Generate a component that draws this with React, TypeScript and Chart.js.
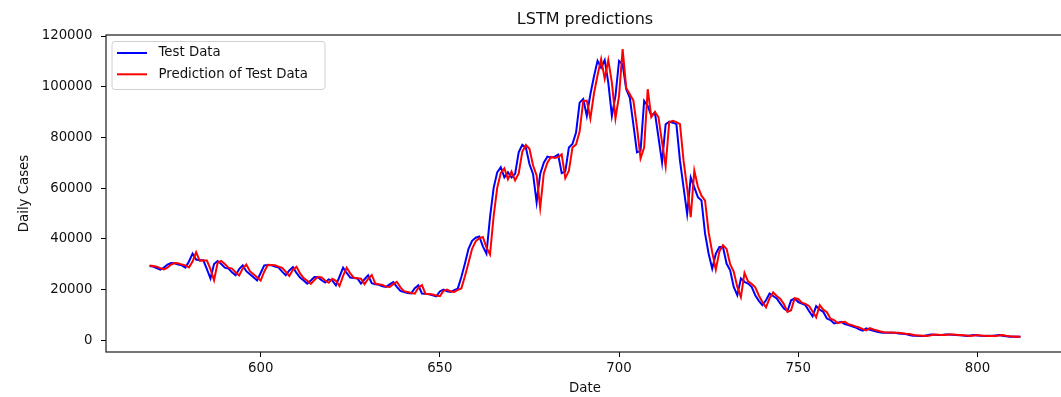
import React, { useEffect, useRef } from "react";
import { Chart, registerables } from "chart.js";

Chart.register(...registerables);

const chartTitle = "LSTM predictions";
const xTitle = "Date";
const yTitle = "Daily Cases";
const seriesLabels = ["Test Data", "Prediction of Test Data"];
const seriesColors = ["#0000ff", "#ff0000"];

const firstDay = 569;
const xTicks = [600, 650, 700, 750, 800];
const yTicks = [0, 20000, 40000, 60000, 80000, 100000, 120000];

// days 569..812
const testData = [
  29200, 29000, 28400, 27800, 28600, 29800, 30400, 30300, 29800, 29500,
  28600, 31000, 34100, 31800, 31500, 31500, 28000, 24300, 30000, 31200,
  30000, 28600, 28200, 26800, 25600, 28000, 29500, 27200, 26000, 24800,
  23600, 26500, 29500, 29600, 29500, 29000, 28600, 27000, 25600, 27500,
  28800, 26500, 24700, 23500, 22300, 23500, 24900, 24800, 23600, 22700,
  24000, 23500, 21600, 25000, 28600, 26500, 24700, 24500, 24300, 22300,
  24000, 25600, 22500, 22000, 21800, 21200, 21000, 22000, 22900, 21000,
  19400, 19000, 18600, 18400, 20500, 21600, 18400, 18300, 18100, 17700,
  17300, 19200, 19900, 19300, 19000, 19700, 20300, 24900, 30200, 36000,
  39200, 40400, 40900, 37000, 34100, 48500, 60000, 66200, 68200, 64200,
  66200, 64200, 65600, 74100, 77100, 76000, 69500, 65600, 54400, 65600,
  70000, 72400, 72100, 72300, 73200, 65900, 66500, 76000, 77400, 81900,
  93700, 95100, 88500, 97000, 104000, 110200, 107500, 110500, 101600, 88500,
  96400, 110200, 108800, 99000, 95700, 85000, 74100, 74700, 94400, 92400,
  88500, 89800, 80000, 70100, 85200, 86200, 85800, 85200, 70800, 60300,
  49800, 64200, 60300, 56400, 55100, 42000, 34100, 28200, 34100, 36700,
  36700, 30200, 27500, 21000, 17700, 24300, 23000, 22300, 21000, 17700,
  15500, 13800, 15700, 18400, 17400, 16400, 14400, 12500, 11500, 15700,
  16400, 15000, 14400, 13800, 11500, 9400, 13400, 12000, 11100, 8500,
  7900, 6600, 6900, 7200, 6300, 5900, 5400, 5000, 4200, 3700,
  4600, 4100, 3700, 3300, 3000, 2900, 2900, 2900, 2900, 2600,
  2500, 2400, 2000, 1700, 1700, 1600, 1600, 1900, 2200, 2100,
  2000, 2000, 2200, 2200, 2100, 2000, 1900, 1800, 1600, 1800,
  2000, 1800, 1700, 1600, 1700, 1600, 1800, 2000, 1700, 1500,
  1300, 1400, 1300, 1300,
];

// days 569..812
const predictedData = [
  29400, 29200, 29000, 28400, 27900, 28600, 29800, 30400, 30300, 29800,
  29500, 28700, 31000, 34700, 31300, 31400, 31400, 28000, 23600, 30500,
  31200, 30000, 28600, 28200, 26800, 25500, 28200, 29800, 27200, 26000,
  24800, 23500, 27000, 29700, 29600, 29500, 29000, 28500, 27000, 25300,
  27800, 28900, 26300, 24500, 23400, 22200, 23700, 25000, 24700, 23500,
  22600, 24200, 23400, 21300, 25300, 28600, 26300, 24600, 24400, 24200,
  22100, 24200, 25700, 22300, 22000, 21800, 21100, 21000, 22100, 23000,
  20800, 19300, 19000, 18600, 18300, 20700, 21700, 18200, 18200, 18000,
  17600, 17300, 19400, 19900, 19200, 19000, 19800, 20400, 25200, 30500,
  36000, 39000, 40200, 40700, 36600, 33800, 48800, 60000, 66000, 67800,
  63500, 66500, 63000, 65800, 74300, 77000, 75500, 69000, 65000, 52200,
  65800, 70000, 72300, 71900, 72200, 73300, 63900, 66800, 76000, 77200,
  82300, 94300, 94500, 87400, 97300, 104500, 110900, 103200, 110500, 101600,
  87500, 96400, 114800, 99500, 97000, 94500, 84000, 71700, 76000, 99000,
  88000, 90000, 88000, 78000, 68600, 86000, 86500, 86000, 85200, 70800,
  60000, 48500, 66900, 60500, 57000, 55000, 42500, 34600, 27800, 35000,
  37500, 36000, 30000, 27000, 21000, 17000, 26500, 23200, 22200, 20800,
  17600, 15000, 12900, 16500, 18800, 17400, 16200, 14200, 11100, 11800,
  16500, 16200, 14800, 14300, 13500, 11300, 9000, 13800, 12000, 11000,
  8400, 7900, 6700, 7000, 7200, 6300, 5900, 5400, 5000, 4300,
  3800, 4700, 4200, 3800, 3400, 3100, 3000, 3000, 2900, 2900,
  2700, 2500, 2400, 2100, 1800, 1800, 1700, 1600, 1900, 2200,
  2100, 2000, 2000, 2200, 2200, 2100, 2000, 1900, 1800, 1600,
  1800, 2000, 1800, 1700, 1600, 1700, 1600, 1800, 2000, 1700,
  1500, 1300, 1400, 1300,
];

const days = testData.map((_, i) => firstDay + i);

const FONT = "'DejaVu Sans', sans-serif";
const FS = 13.3;
const TEXT = "#111111";

const framePlugin = {
  id: "frame",
  afterDatasetsDraw(chart: any) {
    const { ctx, chartArea: a } = chart;
    ctx.save();
    ctx.strokeStyle = "#1a1a1a";
    ctx.lineWidth = 1.2;
    ctx.strokeRect(a.left, a.top, a.right - a.left, a.bottom - a.top);
    ctx.restore();
  },
};

const titlePlugin = {
  id: "mplTitle",
  afterDraw(chart: any) {
    const { ctx, chartArea: a } = chart;
    ctx.save();
    ctx.font = `16px ${FONT}`;
    ctx.fillStyle = TEXT;
    ctx.textAlign = "center";
    ctx.textBaseline = "alphabetic";
    ctx.fillText(chartTitle, (a.left + a.right) / 2, a.top - 11);
    ctx.restore();
  },
};

const legendPlugin = {
  id: "mplLegend",
  afterDraw(chart: any) {
    const { ctx, chartArea: a } = chart;
    const x = a.left + 6;
    const y = a.top + 6.5;
    const w = 213;
    const h = 48;
    const r = 3;
    ctx.save();
    ctx.beginPath();
    ctx.moveTo(x + r, y);
    ctx.lineTo(x + w - r, y);
    ctx.quadraticCurveTo(x + w, y, x + w, y + r);
    ctx.lineTo(x + w, y + h - r);
    ctx.quadraticCurveTo(x + w, y + h, x + w - r, y + h);
    ctx.lineTo(x + r, y + h);
    ctx.quadraticCurveTo(x, y + h, x, y + h - r);
    ctx.lineTo(x, y + r);
    ctx.quadraticCurveTo(x, y, x + r, y);
    ctx.closePath();
    ctx.fillStyle = "rgba(255,255,255,0.8)";
    ctx.fill();
    ctx.strokeStyle = "#d0d0d0";
    ctx.lineWidth = 1;
    ctx.stroke();
    ctx.font = `${FS}px ${FONT}`;
    ctx.textBaseline = "middle";
    ctx.textAlign = "left";
    chart.data.datasets.forEach((ds: any, i: number) => {
      const cy = y + 11.5 + i * 21.3;
      ctx.strokeStyle = ds.borderColor;
      ctx.lineWidth = 2;
      ctx.beginPath();
      ctx.moveTo(x + 5, cy);
      ctx.lineTo(x + 35, cy);
      ctx.stroke();
      ctx.fillStyle = TEXT;
      ctx.fillText(ds.label, x + 46.5, cy);
    });
    ctx.restore();
  },
};

export default function App() {
  const ref = useRef<HTMLCanvasElement>(null);
  useEffect(() => {
    if (!ref.current) return;
    const tickFont = { family: FONT, size: FS };
    const chart = new Chart(ref.current, {
      type: "line",
      data: {
        datasets: [
          {
            label: seriesLabels[0],
            data: days.map((d, i) => ({ x: d, y: testData[i] })),
            borderColor: seriesColors[0],
            backgroundColor: seriesColors[0],
            borderWidth: 2,
            pointRadius: 0,
            tension: 0,
            order: 1,
          },
          {
            label: seriesLabels[1],
            data: days.map((d, i) => ({ x: d, y: predictedData[i] })),
            borderColor: seriesColors[1],
            backgroundColor: seriesColors[1],
            borderWidth: 2,
            pointRadius: 0,
            tension: 0,
            order: 0,
          },
        ],
      },
      options: {
        responsive: false,
        maintainAspectRatio: false,
        animation: false,
        devicePixelRatio: 1,
        layout: { padding: { left: 0, right: 6, top: 35, bottom: 0 } },
        plugins: {
          legend: { display: false },
          title: { display: false },
          tooltip: { enabled: false },
        },
        scales: {
          x: {
            type: "linear",
            min: 556.85,
            max: 824.15,
            afterBuildTicks: (s: any) => {
              s.ticks = xTicks.map((v) => ({ value: v }));
            },
            afterFit: (s: any) => {
              s.height = 45;
            },
            ticks: {
              font: tickFont,
              color: TEXT,
              padding: 4,
              maxRotation: 0,
              autoSkip: false,
              callback: (v: any) => String(v),
            },
            grid: {
              drawOnChartArea: false,
              drawTicks: true,
              tickLength: 5,
              tickColor: "#000",
              lineWidth: 1,
            },
            border: { display: false },
            title: {
              display: true,
              text: xTitle,
              font: tickFont,
              color: TEXT,
              padding: { top: 0, bottom: 0 },
            },
          },
          y: {
            type: "linear",
            min: -4700,
            max: 120400,
            afterBuildTicks: (s: any) => {
              s.ticks = yTicks.map((v) => ({ value: v }));
            },
            afterFit: (s: any) => {
              s.width = 106;
            },
            ticks: {
              font: tickFont,
              color: TEXT,
              padding: 8.5,
              autoSkip: false,
              callback: (v: any) => String(v),
            },
            grid: {
              drawOnChartArea: false,
              drawTicks: true,
              tickLength: 5,
              tickColor: "#000",
              lineWidth: 1,
            },
            border: { display: false },
            title: {
              display: true,
              text: yTitle,
              font: tickFont,
              color: TEXT,
              padding: { top: 17, bottom: 0 },
            },
          },
        },
      },
      plugins: [framePlugin, titlePlugin, legendPlugin],
    });
    return () => chart.destroy();
  }, []);

  return (
    <div
      style={{
        position: "fixed",
        left: 0,
        top: 0,
        width: 1061,
        height: 397,
        overflow: "hidden",
        background: "#ffffff",
      }}
    >
      <canvas
        ref={ref}
        width={1070}
        height={397}
        style={{ display: "block", width: 1070, height: 397 }}
      />
    </div>
  );
}
